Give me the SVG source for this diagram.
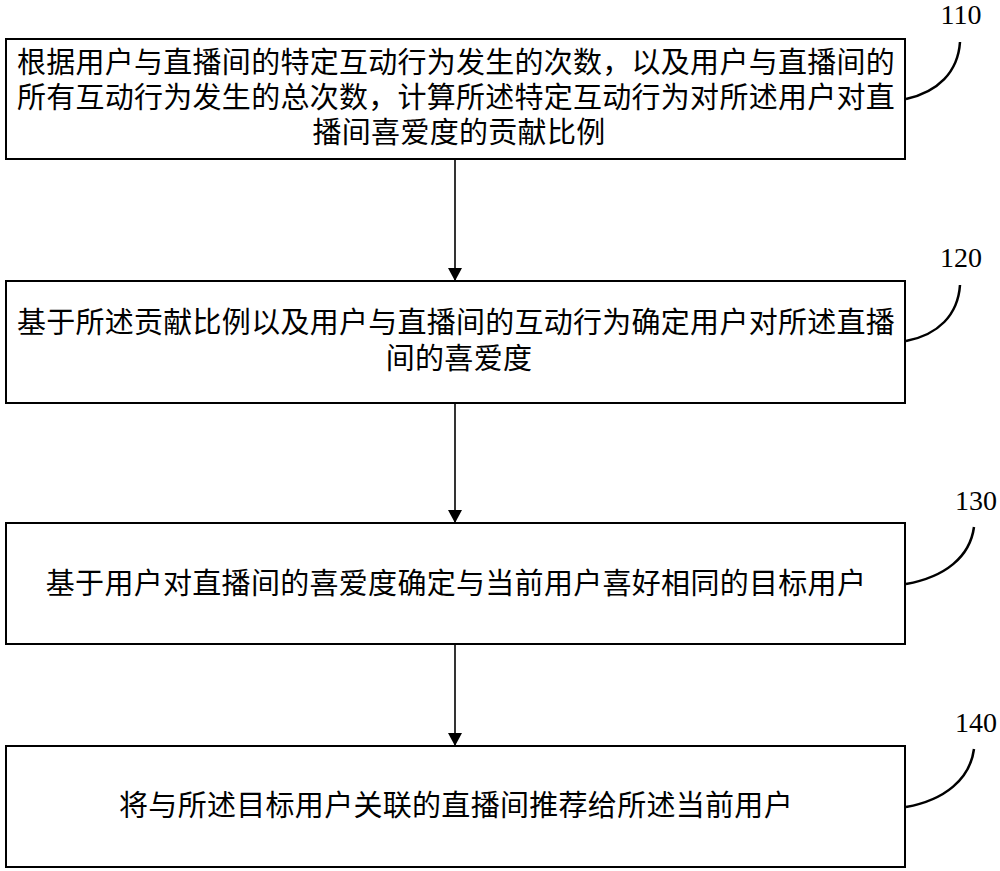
<svg xmlns="http://www.w3.org/2000/svg" width="1000" height="871" viewBox="0 0 1000 871">
<style>
.box{fill:#fff;stroke:#000;stroke-width:2}
.t{font-family:"Noto Sans CJK SC","Liberation Serif",sans-serif;font-size:29px;fill:#000;text-anchor:middle;letter-spacing:0.3px}
.lbl{font-family:"Liberation Serif",serif;font-size:28px;fill:#000;text-anchor:middle}
.con{stroke:#000;stroke-width:1.6;fill:none}
.lead{stroke:#000;stroke-width:2.5;fill:none}
</style>
<defs>
<marker id="ah" markerUnits="userSpaceOnUse" markerWidth="14" markerHeight="13" refX="7" refY="13" orient="auto-start-reverse" viewBox="0 0 14 13">
<path d="M0,0 L14,0 L7,13 Z" fill="#000" transform="rotate(-90 7 6.5) translate(0 0)"/>
</marker>
<marker id="arr" markerUnits="userSpaceOnUse" markerWidth="13" markerHeight="14" refX="13" refY="7" orient="auto" viewBox="0 0 13 14">
<path d="M0,0 L13,7 L0,14 Z" fill="#000"/>
</marker>
</defs>
<rect width="1000" height="871" fill="#fff"/>
<g id="node110">
<rect class="box" x="6" y="39" width="899" height="120"/>
<text class="t" x="456" y="73" textLength="878" lengthAdjust="spacingAndGlyphs">根据用户与直播间的特定互动行为发生的次数，以及用户与直播间的</text>
<text class="t" x="456" y="108" textLength="878" lengthAdjust="spacingAndGlyphs">所有互动行为发生的总次数，计算所述特定互动行为对所述用户对直</text>
<text class="t" x="459" y="143">播间喜爱度的贡献比例</text>
<text class="lbl" x="961" y="24">110</text>
<path class="lead" d="M960,42 C958,72 938,92 906,99"/>
</g>
<g id="node120">
<rect class="box" x="6" y="281" width="899" height="122"/>
<text class="t" x="456" y="333" textLength="878" lengthAdjust="spacingAndGlyphs">基于所述贡献比例以及用户与直播间的互动行为确定用户对所述直播</text>
<text class="t" x="459" y="369">间的喜爱度</text>
<text class="lbl" x="961" y="267">120</text>
<path class="lead" d="M960,285 C958,315 938,335 906,341"/>
</g>
<g id="node130">
<rect class="box" x="6" y="523" width="899" height="121"/>
<text class="t" x="456" y="594">基于用户对直播间的喜爱度确定与当前用户喜好相同的目标用户</text>
<text class="lbl" x="976" y="510">130</text>
<path class="lead" d="M974,527 C970,557 945,577 906,584"/>
</g>
<g id="node140">
<rect class="box" x="6" y="746" width="899" height="121"/>
<text class="t" x="456" y="816">将与所述目标用户关联的直播间推荐给所述当前用户</text>
<text class="lbl" x="976" y="732">140</text>
<path class="lead" d="M974,749 C970,779 945,800 906,807"/>
</g>
<g id="connectors">
<line class="con" x1="455" y1="160" x2="455" y2="281" marker-end="url(#arr)"/>
<line class="con" x1="455" y1="404" x2="455" y2="523" marker-end="url(#arr)"/>
<line class="con" x1="455" y1="645" x2="455" y2="746" marker-end="url(#arr)"/>
</g>
</svg>
